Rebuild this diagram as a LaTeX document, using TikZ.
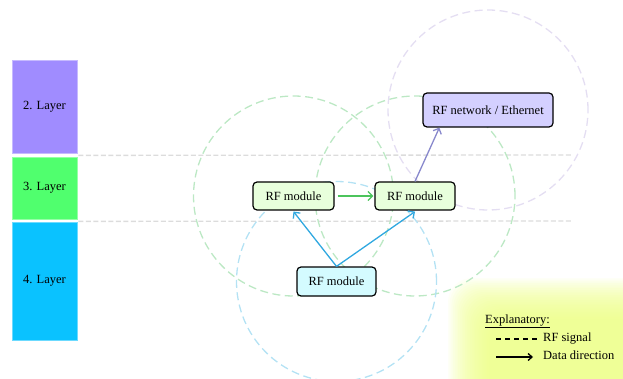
\documentclass[tikz,border=0pt]{standalone}
\usepackage{fontspec}
\setmainfont{Liberation Serif}
\usetikzlibrary{arrows.meta,calc,backgrounds}
\definecolor{layA}{HTML}{A08CFF}
\definecolor{layB}{HTML}{50FF6E}
\definecolor{layC}{HTML}{0AC2FF}
\definecolor{netfill}{HTML}{D4D0FF}
\definecolor{modgreen}{HTML}{E8FFDC}
\definecolor{modcyan}{HTML}{D4FBFF}
\definecolor{circgreen}{HTML}{BCE8C4}
\definecolor{circblue}{HTML}{B4E2F4}
\definecolor{circlav}{HTML}{E4DEF2}
\definecolor{sepgray}{HTML}{DCDCDC}
\definecolor{arrgreen}{HTML}{4CC45C}
\definecolor{arrblue}{HTML}{30A8E0}
\definecolor{arrpurple}{HTML}{8888CC}
\definecolor{glow}{HTML}{ECFF80}
\tikzset{
  txt/.style={font=\fontsize{12.5}{15}\selectfont},
  modbox/.style={txt, draw=black, line width=1.2pt, rounded corners=4pt, inner sep=0pt},
  layerbox/.style={txt, line width=0.8pt, inner sep=0pt},
  rcirc/.style={dashed, dash pattern=on 8pt off 4.5pt, line width=1.3pt},
  sepline/.style={draw=sepgray, line width=1.3pt, dash pattern=on 5pt off 2.5pt},
  barrow/.style={line width=1.3pt, -{Straight Barb[length=4.5pt,width=9pt,line width=1.3pt]}},
}
\begin{document}
\begin{tikzpicture}[x=1pt,y=-1pt]
\useasboundingbox (0,0) rectangle (623,379);
% layers
\node[layerbox, fill=layA, draw=layA!60!white, minimum width=65pt, minimum height=93pt] (l2) at (44.5,106.5) {2. Layer};
\node[layerbox, fill=layB, draw=layB!60!white, minimum width=65pt, minimum height=62pt] (l3) at (44.5,188) {3. Layer};
\node[layerbox, fill=layC, draw=layC!60!white, minimum width=65pt, minimum height=118pt] (l4) at (44.5,281) {4. Layer};
% modules
\node[modbox, fill=netfill, minimum width=130pt, minimum height=34pt] (net) at (488,110) {RF network / Ethernet};
\node[modbox, fill=modgreen, minimum width=81pt, minimum height=28pt] (lm) at (293.5,196) {RF module};
\node[modbox, fill=modgreen, minimum width=80pt, minimum height=28pt] (rm) at (415,196) {RF module};
\node[modbox, fill=modcyan, minimum width=79pt, minimum height=29pt] (bm) at (336.5,281.5) {RF module};
\coordinate (netp) at ($(net.south west)+(17,0)$);
% arrows
\draw[barrow, draw=arrgreen] ([xshift=3pt]lm.east) -- ([xshift=-1pt]rm.west);
\draw[barrow, draw=arrblue] (bm.north) -- ([yshift=-1pt]lm.south);
\draw[barrow, draw=arrblue] (bm.north) -- ([yshift=-1pt]rm.south);
\draw[barrow, draw=arrpurple] (rm.north) -- (netp);
% legend
\node[txt, anchor=base west, inner sep=0pt] (exl) at (485,323) {\underline{Explanatory:}};
\node[txt, anchor=base west, inner sep=0pt] (sig) at (543,341) {RF signal};
\node[txt, anchor=base west, inner sep=0pt] (dat) at (543,359) {Data direction};
\coordinate (sigA) at (496,339);
\coordinate (sigB) at (537,339);
\coordinate (datA) at (496,357);
\coordinate (datB) at (533,357);
\draw[line width=1.5pt, dash pattern=on 5pt off 4pt] (sigA) -- (sigB);
\draw[line width=1.3pt, -{Straight Barb[length=4pt,width=7pt,line width=1.3pt]}] (datA) -- (datB);
\begin{scope}[on background layer]
  \begin{scope}
    \clip (0,0) rectangle (623,379);
    \foreach \i in {0,...,24} {
      \fill[glow, opacity=0.065, rounded corners=24pt] (448+1.7*\i, 278+1.7*\i) rectangle (680,430);
    }
  \end{scope}
  \draw[sepline] (l2.south east) ++(1,2) coordinate (s1) -- (571,155);
  \draw[sepline] (l3.south east) ++(1,2) coordinate (s2) -- (571,221);
  \draw[rcirc, draw=circgreen] (lm.center) circle [radius=100pt];
  \draw[rcirc, draw=circgreen] (rm.center) circle [radius=100pt];
  \draw[rcirc, draw=circblue] (bm.center) circle [radius=100pt];
  \draw[rcirc, draw=circlav] (net.center) circle [radius=100pt];
\end{scope}
\end{tikzpicture}
\end{document}
